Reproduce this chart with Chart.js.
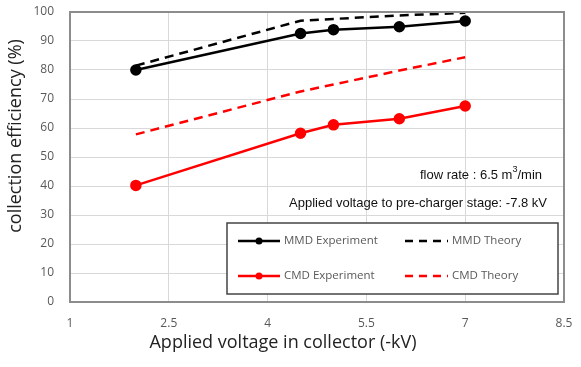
<!DOCTYPE html>
<html>
<head>
<meta charset="utf-8">
<script src="https://cdn.jsdelivr.net/npm/chart.js@4"></script>
<style>
  html, body { margin: 0; padding: 0; background: #fff; }
  #wrap { width: 581px; height: 367px; }
</style>
</head>
<body>
<div id="wrap"><canvas id="chart" width="581" height="367"></canvas></div>
<script>
// data
const voltage = [2, 4.5, 5, 6, 7];
const mmdExperiment = [80, 92.6, 93.9, 94.9, 96.9];
const mmdTheory = [81.5, 97, 97.6, 98.8, 99.7];
const cmdExperiment = [40.2, 58.2, 61.1, 63.2, 67.6];
const cmdTheory = [57.8, 72.6, 75, 79.8, 84.4];
const xTicks = [1, 2.5, 4, 5.5, 7, 8.5];
const legendRows = [
    ['MMD Experiment', 'MMD Theory', '#000'],
    ['CMD Experiment', 'CMD Theory', '#ff0000']
];
const notes = ['flow rate : 6.5 m', '3', '/min', 'Applied voltage to pre-charger stage: -7.8 kV'];
const xTitle = 'Applied voltage in collector (-kV)';
const yTitle = 'collection efficiency (%)';

function toPoints(ys) {
    return voltage.map((x, i) => ({ x: x, y: ys[i] }));
}

function series(label, ys, color, dashed) {
    return {
        label: label,
        data: toPoints(ys),
        borderColor: color,
        backgroundColor: color,
        borderWidth: 2.5,
        borderDash: dashed ? [9, 6] : [],
        pointRadius: dashed ? 0 : 4.5,
        pointHoverRadius: dashed ? 0 : 4.5,
        tension: 0
    };
}

const boxAndNotes = {
    id: 'boxAndNotes',
    afterDraw(chart) {
        const ctx = chart.ctx;
        const a = chart.chartArea;
        ctx.save();
        // plot frame
        ctx.strokeStyle = '#8c8c8c';
        ctx.lineWidth = 2;
        ctx.strokeRect(a.left, a.top, a.right - a.left, a.bottom - a.top);

        // axis titles
        ctx.fillStyle = '#222';
        ctx.font = '18px "Open Sans", "Liberation Sans", sans-serif';
        ctx.textAlign = 'center';
        ctx.textBaseline = 'middle';
        ctx.fillText(xTitle, 283, 343);
        ctx.save();
        ctx.translate(16, 136);
        ctx.rotate(-Math.PI / 2);
        ctx.fillText(yTitle, 0, 0);
        ctx.restore();

        // annotations
        const big = '13px "Liberation Sans", Arial, sans-serif';
        const small = '9px "Liberation Sans", Arial, sans-serif';
        ctx.fillStyle = '#111';
        ctx.textAlign = 'left';
        ctx.font = big;
        const w0 = ctx.measureText(notes[0]).width;
        const w2 = ctx.measureText(notes[2]).width;
        ctx.font = small;
        const w1 = ctx.measureText(notes[1]).width;
        const x0 = 542 - w0 - w1 - w2;
        ctx.font = big;
        ctx.fillText(notes[0], x0, 175);
        ctx.fillText(notes[2], x0 + w0 + w1, 175);
        ctx.font = small;
        ctx.fillText(notes[1], x0 + w0, 170);
        ctx.font = big;
        ctx.textAlign = 'right';
        ctx.fillText(notes[3], 547, 203);

        // legend box
        ctx.fillStyle = '#fff';
        ctx.fillRect(227, 223, 331, 71);
        ctx.strokeStyle = '#444';
        ctx.lineWidth = 1.5;
        ctx.strokeRect(227, 223, 331, 71);
        ctx.font = '11.5px "Open Sans", "Liberation Sans", sans-serif';
        ctx.textAlign = 'left';
        legendRows.forEach((row, i) => {
            const y = 241 + i * 35;
            ctx.strokeStyle = row[2];
            ctx.fillStyle = row[2];
            ctx.lineWidth = 2.5;
            ctx.setLineDash([]);
            ctx.beginPath();
            ctx.moveTo(238, y);
            ctx.lineTo(280, y);
            ctx.stroke();
            ctx.beginPath();
            ctx.arc(259, y, 3.5, 0, Math.PI * 2);
            ctx.fill();
            ctx.setLineDash([8, 6]);
            ctx.beginPath();
            ctx.moveTo(405, y);
            ctx.lineTo(448, y);
            ctx.stroke();
            ctx.setLineDash([]);
            ctx.fillStyle = '#595959';
            ctx.fillText(row[0], 284, y);
            ctx.fillText(row[1], 452, y);
        });
        ctx.restore();
    }
};

new Chart(document.getElementById('chart'), {
    type: 'line',
    data: {
        datasets: [
            series('MMD Experiment', mmdExperiment, '#000', false),
            series('MMD Theory', mmdTheory, '#000', true),
            series('CMD Experiment', cmdExperiment, '#ff0000', false),
            series('CMD Theory', cmdTheory, '#ff0000', true)
        ]
    },
    options: {
        responsive: false,
        animation: false,
        layout: { padding: { top: 12, right: 17, left: 0, bottom: 0 } },
        plugins: { legend: { display: false }, tooltip: { enabled: false } },
        scales: {
            x: {
                type: 'linear',
                min: 1,
                max: 8.5,
                afterBuildTicks: axis => { axis.ticks = xTicks.map(v => ({ value: v })); },
                afterFit: axis => {
                    axis.height = 65;
                    axis.paddingLeft = 0;
                    axis.paddingRight = 0;
                },
                grid: { color: '#d9d9d9', lineWidth: 1, drawTicks: false },
                border: { display: false },
                ticks: {
                    padding: 14,
                    color: '#595959',
                    font: { family: 'Open Sans, Liberation Sans, sans-serif', size: 12 }
                }
            },
            y: {
                min: 0,
                max: 100,
                afterFit: axis => {
                    axis.width = 70;
                    axis.paddingTop = 0;
                    axis.paddingBottom = 0;
                },
                grid: { color: '#d9d9d9', lineWidth: 1, drawTicks: false },
                border: { display: false },
                ticks: {
                    stepSize: 10,
                    padding: 16,
                    color: '#595959',
                    font: { family: 'Open Sans, Liberation Sans, sans-serif', size: 12 }
                }
            }
        }
    },
    plugins: [boxAndNotes]
});
</script>
</body>
</html>
